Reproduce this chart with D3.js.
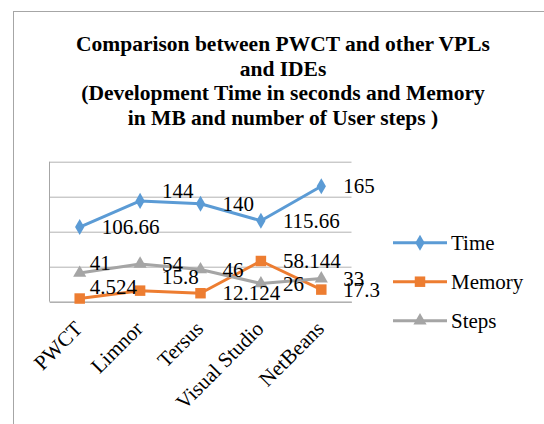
<!DOCTYPE html>
<html>
<head>
<meta charset="utf-8">
<script src="https://cdn.jsdelivr.net/npm/d3@7/dist/d3.min.js"></script>
</head>
<body style="margin:0">
<svg id="chart" width="544" height="424" style="font-family: 'Liberation Serif', 'Times New Roman', monospace;"></svg>
<script>
// ---- data ----
const categories = ["PWCT", "Limnor", "Tersus", "Visual Studio", "NetBeans"];
const seriesNames = ["Time", "Memory", "Steps"];
const timeValues = [106.66, 144, 140, 115.66, 165];
const memoryValues = [4.524, 15.8, 12.124, 58.144, 17.3];
const stepsValues = [41, 54, 46, 26, 33];
const yTicks = [0, 50, 100, 150, 200];
const titleLines = [
  "Comparison between PWCT and other VPLs",
  "and IDEs",
  "(Development Time in seconds and Memory",
  "in MB and number of User steps )"
];

// ---- layout / style ----
const colors = { Time: "#5B9BD5", Memory: "#ED7D31", Steps: "#A5A5A5" };
const markers = { Time: d3.symbolDiamond, Memory: d3.symbolSquare, Steps: d3.symbolTriangle };
const markerSize = { Time: 75, Memory: 110, Steps: 75 };
// manual label nudges (as placed in the original)
const labelNudge = {
  "Time|Limnor": [0, -10],
  "Memory|PWCT": [-12, -12],
  "Memory|Limnor": [0, -14],
  "Steps|PWCT": [-12, -10]
};

function serif(sel) {
  return sel.style("font-family", d => '"Liberation Serif", monospace');
}

const svg = d3.select("#chart");
const plot = { left: 49.5, right: 351.5, top: 161.7, bottom: 301.7 };

// outer frame
svg.append("rect")
  .attr("x", 13.5).attr("y", 11.5)
  .attr("width", 600).attr("height", 500)
  .attr("fill", "none").attr("stroke", "#a6a6a6").attr("stroke-width", 1);

// title
svg.append("g").selectAll("text").data(titleLines).join("text")
  .call(serif)
  .attr("x", 283).attr("y", (d, i) => 51 + i * 24.5)
  .attr("text-anchor", "middle")
  .attr("font-weight", "bold")
  .attr("font-size", 21.5)
  .text(d => d);

const x = d3.scaleBand().domain(categories).range([plot.left, plot.right]);
const y = d3.scaleLinear().domain([0, 200]).range([plot.bottom, plot.top]);
const cx = c => x(c) + x.bandwidth() / 2;

// gridlines
const grid = d3.axisLeft(y).tickValues(yTicks).tickSize(-(plot.right - plot.left)).tickFormat("");
const g = svg.append("g").attr("transform", `translate(${plot.left},0)`).call(grid);
g.select(".domain").remove();
g.selectAll(".tick line").attr("stroke", "#b3b3b3").attr("stroke-width", 1);

// left axis line
svg.append("line")
  .attr("x1", plot.left).attr("x2", plot.left)
  .attr("y1", plot.top).attr("y2", plot.bottom)
  .attr("stroke", "#a6a6a6");

// x axis
const xAxis = d3.axisBottom(x).tickSize(0).tickFormat("");
const xg = svg.append("g").attr("transform", `translate(0,${plot.bottom})`).call(xAxis);
xg.select(".domain").attr("stroke", "#a6a6a6");
svg.append("g").selectAll("text").data(categories).join("text")
  .call(serif)
  .attr("transform", d => `translate(${cx(d) + 4},330) rotate(-45)`)
  .attr("text-anchor", "end")
  .attr("font-size", 21)
  .text(d => d);

const seriesData = [
  { name: "Time", values: timeValues },
  { name: "Memory", values: memoryValues },
  { name: "Steps", values: stepsValues }
];

const line = d3.line().x((d, i) => cx(categories[i])).y(d => y(d));

seriesData.forEach(s => {
  svg.append("path")
    .attr("d", line(s.values))
    .attr("fill", "none")
    .attr("stroke", colors[s.name])
    .attr("stroke-width", 3)
    .attr("stroke-linejoin", "round");
  svg.append("g").selectAll("path").data(s.values).join("path")
    .attr("transform", (d, i) => `translate(${cx(categories[i])},${y(d)})`)
    .attr("d", d3.symbol().type(markers[s.name]).size(markerSize[s.name]))
    .attr("fill", colors[s.name]);
});

// data labels
seriesData.forEach(s => {
  svg.append("g").selectAll("text").data(s.values).join("text")
    .call(serif)
    .attr("x", (d, i) => cx(categories[i]) + 22 + ((labelNudge[s.name + "|" + categories[i]] || [0, 0])[0]))
    .attr("y", (d, i) => y(d) + 7 + ((labelNudge[s.name + "|" + categories[i]] || [0, 0])[1]))
    .attr("font-size", 21)
    .text(d => d);
});

// legend
const legend = svg.append("g");
seriesNames.forEach((n, i) => {
  const ly = 242.7 + i * 39;
  legend.append("line")
    .attr("x1", 393).attr("x2", 447).attr("y1", ly).attr("y2", ly)
    .attr("stroke", colors[n]).attr("stroke-width", 3);
  legend.append("path")
    .attr("transform", `translate(420,${ly})`)
    .attr("d", d3.symbol().type(markers[n]).size(markerSize[n]))
    .attr("fill", colors[n]);
  legend.append("text")
    .call(serif)
    .attr("x", 451).attr("y", ly + 7)
    .attr("font-size", 21)
    .text(n);
});
</script>
</body>
</html>
